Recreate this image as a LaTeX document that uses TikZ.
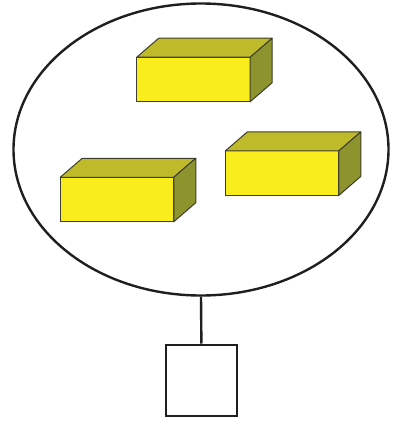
\documentclass[tikz,border=0pt]{standalone}
\usepackage{xcolor}
\usepackage{tikz}
\usetikzlibrary{shapes.geometric}
\definecolor{boxfront}{RGB}{250,237,30}
\definecolor{boxtop}{RGB}{190,186,42}
\definecolor{boxside}{RGB}{141,148,46}
\definecolor{boxedge}{RGB}{62,62,48}
% top and right faces of a block drawn behind its front node
\newcommand{\blockfaces}[1]{%
  \filldraw[facetop] (#1.north west) -- ([shift={(22,-19)}]#1.north west)
    -- ([shift={(22,-19)}]#1.north east) -- (#1.north east) -- cycle;
  \filldraw[faceside] (#1.north east) -- ([shift={(22,-19)}]#1.north east)
    -- ([shift={(22,-19)}]#1.south east) -- (#1.south east) -- cycle;}

\begin{document}
\begin{tikzpicture}[x=1pt,y=-1pt,
  cell/.style={ellipse,draw=black!88,line width=2.4pt,inner sep=0pt,
    minimum width=375pt,minimum height=292pt},
  block/.style={draw=boxedge,line width=1pt,fill=boxfront,inner sep=0pt,
    outer sep=0pt,minimum width=113.5pt,minimum height=44.5pt},
  facetop/.style={draw=boxedge,line width=1pt,fill=boxtop,line join=round},
  faceside/.style={draw=boxedge,line width=1pt,fill=boxside,line join=round},
  port/.style={draw=black!88,line width=2.6pt,inner sep=0pt,
    minimum size=71pt},
  link/.style={draw=black!88,line width=2.4pt}
]
\useasboundingbox (0,0) rectangle (393,425);
\node[cell] (cell) at (201,149.5) {};
\node[block] (b1) at (193.4,79.5) {};
\node[block] (b2) at (282,173.2) {};
\node[block] (b3) at (117,199.5) {};
\blockfaces{b1}
\blockfaces{b2}
\blockfaces{b3}
\node[port] (port) at (201.4,380.3) {};
\draw[link] (cell.south) -- (port.north);
\end{tikzpicture}
\end{document}
